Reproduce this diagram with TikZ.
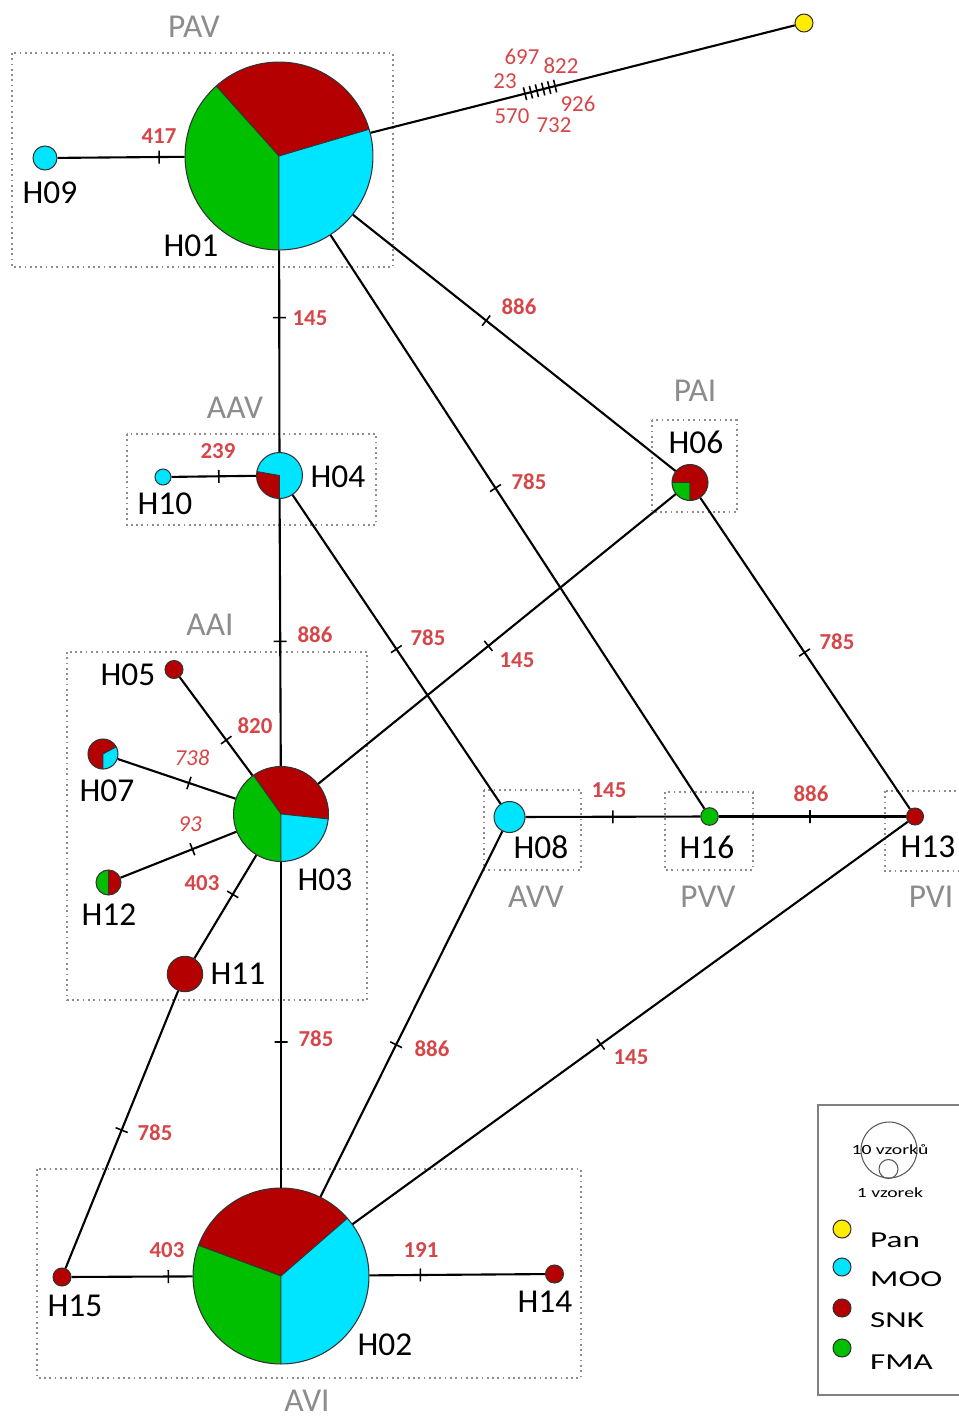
\documentclass[tikz,border=0pt]{standalone}
\usepackage{fontspec}
\setmainfont{Carlito}
\definecolor{snk}{RGB}{180,0,0}
\definecolor{moo}{RGB}{0,229,255}
\definecolor{fma}{RGB}{0,190,0}
\definecolor{pan}{RGB}{255,236,0}
\definecolor{mutred}{RGB}{214,70,72}
\definecolor{regiongray}{RGB}{140,140,140}
% one coloured slice of a haplotype pie (used inside path picture)
\newcommand{\hapslice}[3]{\filldraw[fill=#3, draw=black!80, line width=0.5pt] (path picture bounding box.center) -- ++(#1:150) arc[start angle=#1, end angle=#2, radius=150] -- cycle;}

\begin{document}
\begin{tikzpicture}[x=0.02cm, y=0.02cm,
    hap/.style={circle, draw=black!80, line width=0.6pt, inner sep=0pt, minimum size=#1*0.04cm},
    link/.style={line width=1.2pt},
    tick/.style={draw, sloped, rectangle, inner sep=0pt, minimum width=0pt, minimum height=0.26cm, line width=0.9pt},
    hname/.style={font=\fontsize{19}{19}\selectfont},
    mut/.style={text=mutred, font=\fontsize{13}{13}\selectfont\bfseries},
    mutthin/.style={text=mutred, font=\fontsize{13}{13}\selectfont},
    mutit/.style={text=mutred, font=\fontsize{13}{13}\selectfont\itshape},
    region/.style={draw=regiongray, dotted, line width=1pt},
    regname/.style={text=regiongray, font=\fontsize{19}{19}\selectfont},
    legtext/.style={font=\fontsize{13}{13}\selectfont, anchor=west},
    ]
        \useasboundingbox (0,0) rectangle (959,-1420);

        % Draw the dotted regions
        \draw[region] (12,-53) rectangle (393,-267);
        \node[regname] (PAV) at (194,-27) {PAV};
        \draw[region] (127,-434) rectangle (376,-525);
        \node[regname] (AAV) at (235,-408) {AAV};
        \draw[region] (652,-420) rectangle (737,-512);
        \node[regname] (PAI) at (695,-391) {PAI};
        \draw[region] (67,-652) rectangle (367,-1000);
        \node[regname] (AAI) at (210,-625) {AAI};
        \draw[region] (484,-790) rectangle (581,-870);
        \node[regname] (AVV) at (536,-897) {AVV};
        \draw[region] (665,-792) rectangle (753,-870);
        \node[regname] (PVV) at (708,-897) {PVV};
        \draw[region] (885,-791) rectangle (975,-871);
        \node[regname] (PVI) at (931,-897) {PVI};
        \draw[region] (37,-1169) rectangle (581,-1378);
        \node[regname] (AVI) at (307,-1401) {AVI};

        % Draw the haplotypes
        \node[hap=94, path picture={\hapslice{16.5}{131.9}{snk}\hapslice{131.9}{270}{fma}\hapslice{-90}{16.5}{moo}}] (H01) at (279,-156) {};
        \node[hap=88, path picture={\hapslice{41}{159.6}{snk}\hapslice{159.6}{270}{fma}\hapslice{-90}{41}{moo}}] (H02) at (281,-1276) {};
        \node[hap=47.5, path picture={\hapslice{-6}{125.5}{snk}\hapslice{125.5}{270}{fma}\hapslice{270}{354}{moo}}] (H03) at (281,-814) {};
        \node[hap=23, path picture={\hapslice{170}{270}{snk}\hapslice{-90}{170}{moo}}] (H04) at (279.5,-475.5) {};
        \node[hap=9, fill=snk] (H05) at (174,-669.5) {};
        \node[hap=18, path picture={\hapslice{180}{270}{fma}\hapslice{-90}{180}{snk}}] (H06) at (690,-482.5) {};
        \node[hap=15, path picture={\hapslice{28.5}{270}{snk}\hapslice{-90}{28.5}{moo}}] (H07) at (103,-754) {};
        \node[hap=15.5, fill=moo] (H08) at (509.5,-817) {};
        \node[hap=12, fill=moo] (H09) at (45,-158) {};
        \node[hap=8, fill=moo] (H10) at (163,-477) {};
        \node[hap=17.7, fill=snk] (H11) at (185,-974) {};
        \node[hap=12.5, path picture={\hapslice{90}{270}{fma}\hapslice{-90}{90}{snk}}] (H12) at (108.5,-882.5) {};
        \node[hap=8.5, fill=snk] (H13) at (915,-816.5) {};
        \node[hap=9, fill=snk] (H14) at (554.5,-1274) {};
        \node[hap=9, fill=snk] (H15) at (62,-1277) {};
        \node[hap=8.8, fill=fma] (H16) at (709.5,-816.5) {};
        \node[hap=9, fill=pan] (Pan) at (804,-23) {};

        % Haplotype names
        \node[hname] (lH01) at (191,-246) {H01};
        \node[hname] (lH02) at (385,-1345) {H02};
        \node[hname] (lH03) at (325,-880) {H03};
        \node[hname] (lH04) at (338,-477) {H04};
        \node[hname] (lH05) at (128,-675) {H05};
        \node[hname] (lH06) at (696,-442) {H06};
        \node[hname] (lH07) at (107,-791) {H07};
        \node[hname] (lH08) at (541,-847) {H08};
        \node[hname] (lH09) at (50,-193) {H09};
        \node[hname] (lH10) at (165,-504) {H10};
        \node[hname] (lH11) at (238,-974) {H11};
        \node[hname] (lH12) at (109,-915) {H12};
        \node[hname] (lH13) at (928,-847) {H13};
        \node[hname] (lH14) at (545,-1302) {H14};
        \node[hname] (lH15) at (75,-1306) {H15};
        \node[hname] (lH16) at (707,-847) {H16};

        % Draw the links with their mutations
        \draw[link] (H09) -- node[tick, pos=.80] {} (H01);
        \draw[link] (H01) -- (Pan);
        \foreach \p in {.364,.378,.392,.407,.421,.435}
            \path (H01) -- (Pan) node[tick, pos=\p] {};
        \draw[link] (H01) -- node[tick, pos=.333] {} (H04);
        \draw[link] (H01) -- node[tick, pos=.413] {} (H06);
        \draw[link] (H01) -- node[tick, pos=.441] {} (H16);
        \draw[link] (H10) -- node[tick, pos=.56] {} (H04);
        \draw[link] (H04) -- node[tick, pos=.533] {} (H03);
        \draw[link] (H04) -- node[tick, pos=.499] {} (H08);
        \draw[link] (H06) -- node[tick, pos=.524] {} (H03);
        \draw[link] (H06) -- node[tick, pos=.497] {} (H13);
        \draw[link] (H05) -- node[tick, pos=.64] {} (H03);
        \draw[link] (H07) -- node[tick, pos=.605] {} (H03);
        \draw[link] (H12) -- node[tick, pos=.62] {} (H03);
        \draw[link] (H11) -- node[tick, pos=.62] {} (H03);
        \draw[link] (H03) -- node[tick, pos=.553] {} (H02);
        \draw[link] (H11) -- node[tick, pos=.502] {} (H15);
        \draw[link] (H08) -- node[tick, pos=.584] {} (H02);
        \draw[link] (H13) -- node[tick, pos=.553] {} (H02);
        \draw[link] (H08) -- node[tick, pos=.50] {} (H16);
        \draw[link] (H16) -- node[tick, pos=.487] {} (H13);
        \draw[link] (H15) -- node[tick, pos=.80] {} (H02);
        \draw[link] (H02) -- node[tick, pos=.29] {} (H14);

        % Mutation positions
        \node[mut] (m417) at (159,-136) {417};
        \node[mutthin] (m697) at (522,-57) {697};
        \node[mutthin] (m822) at (561,-66) {822};
        \node[mutthin] (m23) at (505,-81) {23};
        \node[mutthin] (m926) at (578,-104) {926};
        \node[mutthin] (m570) at (512,-116) {570};
        \node[mutthin] (m732) at (554,-125) {732};
        \node[mut] (m145a) at (310,-318) {145};
        \node[mut] (m886a) at (519,-307) {886};
        \node[mut] (m785a) at (529,-482) {785};
        \node[mut] (m239) at (218,-451) {239};
        \node[mut] (m886b) at (315,-635) {886};
        \node[mut] (m785b) at (428,-638) {785};
        \node[mut] (m145b) at (517,-660) {145};
        \node[mut] (m785c) at (837,-642) {785};
        \node[mut] (m820) at (255,-726) {820};
        \node[mutit] (m738) at (192,-758) {738};
        \node[mutit] (m93) at (190,-824) {93};
        \node[mut] (m403a) at (202,-883) {403};
        \node[mut] (m145c) at (609,-790) {145};
        \node[mut] (m886c) at (811,-794) {886};
        \node[mut] (m785d) at (316,-1039) {785};
        \node[mut] (m886d) at (432,-1049) {886};
        \node[mut] (m145d) at (631,-1057) {145};
        \node[mut] (m785e) at (155,-1133) {785};
        \node[mut] (m403b) at (167,-1250) {403};
        \node[mut] (m191) at (421,-1250) {191};

        % Legend
        \draw[draw=black!50, line width=1.2pt] (818,-1105) rectangle (975,-1395);
        \node[circle, draw=black!65, line width=0.6pt, inner sep=0pt, minimum size=56*0.02cm] (big) at (889,-1150) {};
        \node[circle, draw=black!65, line width=0.6pt, inner sep=0pt, minimum size=19*0.02cm] (small) at (888.5,-1169) {};
        \node[font=\fontsize{8}{8}\selectfont] (l10) at (890,-1150) {\scalebox{1.4}[1]{10 vzorků}};
        \node[font=\fontsize{8}{8}\selectfont] (l1) at (890,-1193) {\scalebox{1.4}[1]{1 vzorek}};
        \node[hap=9, fill=pan] (kPan) at (842,-1229) {};
        \node[hap=9, fill=moo] (kMOO) at (842,-1267) {};
        \node[hap=9, fill=snk] (kSNK) at (842,-1308) {};
        \node[hap=9, fill=fma] (kFMA) at (842,-1348) {};
        \node[legtext] (tPan) at (864,-1240) {\scalebox{1.45}[1]{Pan}};
        \node[legtext] (tMOO) at (864,-1279) {\scalebox{1.45}[1]{MOO}};
        \node[legtext] (tSNK) at (864,-1320) {\scalebox{1.45}[1]{SNK}};
        \node[legtext] (tFMA) at (864,-1362) {\scalebox{1.45}[1]{FMA}};
    \end{tikzpicture}
\end{document}
